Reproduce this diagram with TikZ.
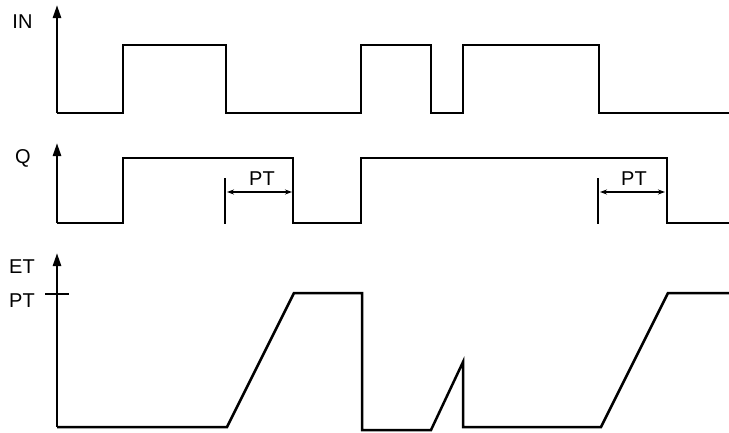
\documentclass[tikz,border=0pt]{standalone}
\usepackage{fontspec}
\setmainfont{Liberation Sans}
\usetikzlibrary{arrows.meta}
\begin{document}
\begin{tikzpicture}[x=1pt,y=-1pt,
  wave/.style={line width=2.5pt,line join=miter},
  axis/.style={line width=2.5pt,-{Triangle[length=13pt,width=8pt]}},
  thin/.style={line width=1.7pt},
  dim/.style={line width=1.7pt,{Stealth[length=7pt,width=5pt]}-{Stealth[length=7pt,width=5pt]}},
  lbl/.style={font=\fontsize{20}{22}\selectfont,inner sep=0pt}]
\useasboundingbox (0,0) rectangle (729,432);
% labels
\node[lbl] (lin) at (22.5,21.5) {IN};
\node[lbl] (lq) at (23,158) {Q};
\node[lbl] (let) at (22,266.5) {ET};
\node[lbl] (lpt) at (22,300.5) {PT};
% IN
\draw[axis] (57,113) -- (57,5);
\draw[wave] (57,113) -- (123,113) -- (123,45) -- (226,45) -- (226,113) -- (361,113) -- (361,45) -- (431,45) -- (431,113) -- (463,113) -- (463,45) -- (599,45) -- (599,113) -- (729,113);
% Q
\draw[axis] (57,223) -- (57,143);
\draw[wave] (57,223) -- (123,223) -- (123,158) -- (293,158) -- (293,223) -- (361,223) -- (361,158) -- (667,158) -- (667,223) -- (729,223);
% PT markers
\coordinate (m1t) at (225,178); \coordinate (m1b) at (225,224);
\draw[thin] (m1t) -- (m1b);
\coordinate (a1l) at (227,192); \coordinate (a1r) at (292,192);
\draw[dim] (a1l) -- (a1r);
\node[lbl] (pt1) at (262,178.5) {PT};
\coordinate (m2t) at (598,178); \coordinate (m2b) at (598,224);
\draw[thin] (m2t) -- (m2b);
\coordinate (a2l) at (600,192); \coordinate (a2r) at (665,192);
\draw[dim] (a2l) -- (a2r);
\node[lbl] (pt2) at (634,178.5) {PT};
% ET
\draw[axis] (57,427) -- (57,253);
\draw[line width=1.7pt] (45,294) -- (69,294);
\draw[wave] (57,427) -- (227,427) -- (294,293) -- (362,293) -- (362,430) -- (431,430) -- (463,362) -- (463,427) -- (601,427) -- (668,293) -- (729,293);
\end{tikzpicture}
\end{document}
